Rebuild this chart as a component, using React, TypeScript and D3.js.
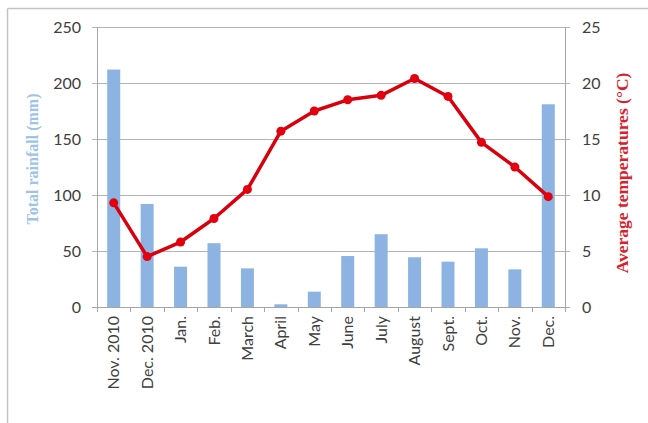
import React, { useEffect, useRef } from "react";
import * as d3 from "d3";

const categories = ["Nov. 2010", "Dec. 2010", "Jan.", "Feb.", "March", "April", "May", "June", "July", "August", "Sept.", "Oct.", "Nov.", "Dec."];
const rainfall = [212, 92, 36, 57, 34.5, 2.4, 13.7, 45.5, 65, 44.4, 40.5, 52.4, 33.6, 181];
const temperature = [9.3, 4.5, 5.8, 7.9, 10.5, 15.7, 17.5, 18.5, 18.9, 20.4, 18.8, 14.7, 12.5, 9.85];
const rainTicks = [0, 50, 100, 150, 200, 250];
const tempTicks = [0, 5, 10, 15, 20, 25];

const W = 648, H = 423;
const M = { left: 97, right: 565, top: 27, bottom: 307 };

export default function App() {
  const ref = useRef<SVGSVGElement>(null);
  useEffect(() => {
    const svg = d3.select(ref.current);
    svg.selectAll("*").remove();
    svg.append("rect").attr("width", W).attr("height", H).attr("fill", "#fff");
    // frame
    svg.append("line").attr("x1", 7.5).attr("x2", W).attr("y1", 8.5).attr("y2", 8.5).attr("stroke", "#c4c4c4").attr("stroke-width", 1.5);
    svg.append("line").attr("x1", 7.5).attr("x2", 7.5).attr("y1", 8.5).attr("y2", H).attr("stroke", "#c4c4c4").attr("stroke-width", 1.5);

    const xb = d3.scaleBand<string>().domain(categories).range([M.left, M.right]);
    const yL = d3.scaleLinear().domain([0, 250]).range([M.bottom, M.top]);
    const yR = d3.scaleLinear().domain([0, 25]).range([M.bottom, M.top]);

    // gridlines
    svg.append("g").selectAll("line").data(rainTicks.filter(t => t > 0)).join("line")
      .attr("x1", M.left - 5).attr("x2", M.right + 5)
      .attr("y1", d => Math.round(yL(d)) + 0.5).attr("y2", d => Math.round(yL(d)) + 0.5)
      .attr("stroke", "#b4b4b4").attr("stroke-width", 1);

    // bars
    svg.append("g").selectAll("rect").data(rainfall).join("rect")
      .attr("x", (d, i) => xb(categories[i])! + xb.bandwidth() / 2 - 6.5)
      .attr("width", 13)
      .attr("y", d => yL(d)).attr("height", d => yL(0) - yL(d))
      .attr("fill", "#8db3e2");

    // axes lines
    const axisColor = "#a6a6a6";
    svg.append("line").attr("x1", M.left + 0.5).attr("x2", M.left + 0.5).attr("y1", M.top).attr("y2", M.bottom).attr("stroke", axisColor);
    svg.append("line").attr("x1", M.right + 0.5).attr("x2", M.right + 0.5).attr("y1", M.top).attr("y2", M.bottom).attr("stroke", axisColor);
    svg.append("line").attr("x1", M.left - 5).attr("x2", M.right + 5).attr("y1", M.bottom + 0.5).attr("y2", M.bottom + 0.5).attr("stroke", axisColor);
    // x ticks
    const bounds = categories.map(c => xb(c)!).concat([M.right]);
    svg.append("g").selectAll("line").data(bounds).join("line")
      .attr("x1", d => Math.round(d) + 0.5).attr("x2", d => Math.round(d) + 0.5)
      .attr("y1", M.bottom).attr("y2", M.bottom + 5).attr("stroke", axisColor);

    const tickFont = "Lato, 'Open Sans', sans-serif";
    // left tick labels
    svg.append("g").selectAll("text").data(rainTicks).join("text")
      .attr("x", 81).attr("y", d => yL(d)).attr("dy", "0.35em")
      .attr("text-anchor", "end").attr("font-family", tickFont).attr("font-size", 16).attr("fill", "#404040")
      .text(d => String(d));
    // right tick labels
    svg.append("g").selectAll("text").data(tempTicks).join("text")
      .attr("x", 582).attr("y", d => yR(d)).attr("dy", "0.35em")
      .attr("text-anchor", "start").attr("font-family", tickFont).attr("font-size", 16).attr("fill", "#404040")
      .text(d => String(d));
    // category labels
    svg.append("g").selectAll("text").data(categories).join("text")
      .attr("transform", d => `translate(${xb(d)! + xb.bandwidth() / 2},${M.bottom + 9}) rotate(-90)`)
      .attr("dy", "0.35em").attr("text-anchor", "end")
      .attr("font-family", tickFont).attr("font-size", 16).attr("fill", "#404040")
      .text(d => d);

    // temperature line
    const line = d3.line<number>()
      .x((d, i) => xb(categories[i])! + xb.bandwidth() / 2)
      .y(d => yR(d));
    svg.append("path").datum(temperature).attr("d", line).attr("fill", "none")
      .attr("stroke", "#d9000d").attr("stroke-width", 3.5).attr("stroke-linejoin", "round");
    svg.append("g").selectAll("circle").data(temperature).join("circle")
      .attr("cx", (d, i) => xb(categories[i])! + xb.bandwidth() / 2)
      .attr("cy", d => yR(d)).attr("r", 4.5).attr("fill", "#e3000f");

    // axis titles
    const titleFont = "'Liberation Serif', 'DejaVu Serif', serif";
    svg.append("text").attr("transform", `translate(32,159) rotate(-90)`)
      .attr("text-anchor", "middle").attr("dy", "0.35em")
      .attr("font-family", titleFont).attr("font-weight", "bold").attr("font-size", 16).attr("fill", "#9dc3e6")
      .text("Total rainfall  (mm)");
    svg.append("text").attr("transform", `translate(622,173) rotate(-90)`)
      .attr("text-anchor", "middle").attr("dy", "0.35em")
      .attr("font-family", titleFont).attr("font-weight", "bold").attr("font-size", 17.5).attr("fill", "#d9212b")
      .text("Average temperatures (\u00B0C)");
  }, []);
  return <svg ref={ref} width={W} height={H} style={{ position: "absolute", left: 0, top: 0 }} />;
}
